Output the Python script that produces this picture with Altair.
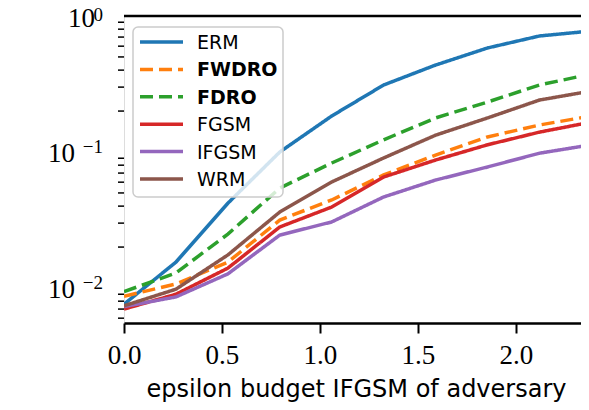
import altair as alt
import pandas as pd

# ---- data ----
eps = [0.0, 0.265, 0.53, 0.795, 1.06, 1.325, 1.59, 1.855, 2.12, 2.385]
names = ["ERM", "FWDRO", "FDRO", "FGSM", "IFGSM", "WRM"]
erm = [0.0076, 0.0155, 0.042, 0.100, 0.184, 0.311, 0.436, 0.582, 0.713, 0.776]
fwdro = [0.0087, 0.0107, 0.0155, 0.0316, 0.0444, 0.0678, 0.095, 0.129, 0.158, 0.184]
fdro = [0.0094, 0.0129, 0.0249, 0.0543, 0.083, 0.123, 0.178, 0.233, 0.311, 0.375]
fgsm = [0.0070, 0.0090, 0.0140, 0.0281, 0.0394, 0.0655, 0.0873, 0.113, 0.140, 0.166]
ifgsm = [0.0073, 0.0086, 0.0127, 0.0245, 0.0306, 0.0467, 0.0622, 0.0776, 0.098, 0.113]
wrm = [0.0074, 0.0098, 0.0175, 0.0362, 0.0602, 0.0904, 0.133, 0.178, 0.241, 0.281]
series = [erm, fwdro, fdro, fgsm, ifgsm, wrm]

colors = ["#1f77b4", "#ff7f0e", "#2ca02c", "#d62728", "#9467bd", "#8c564b"]
dashes = [[1, 0], [13, 6], [13, 6], [1, 0], [1, 0], [1, 0]]
bold_names = ["FWDRO", "FDRO"]

x_ticks = [0.0, 0.5, 1.0, 1.5, 2.0]
y_major = [0.01, 0.1, 1.0]
y_low = [0.01, 0.1]
y_low_exp = ["\u22122", "\u22121"]
y_top = [1.0]
y_top_exp = ["0"]
y_minor = [0.006, 0.007, 0.008, 0.009,
           0.02, 0.03, 0.04, 0.05, 0.06, 0.07, 0.08, 0.09,
           0.2, 0.3, 0.4, 0.5, 0.6, 0.7, 0.8, 0.9]

W, H = 457, 307
X_MAX = 2.332  # visible x range (plot is cut at the right edge)

rows = []
for n, s in zip(names, series):
    for e, v in zip(eps, s):
        rows.append({"eps": e, "err": v, "name": n})
df = pd.DataFrame(rows)

xscale = alt.Scale(domain=[0, X_MAX], nice=False, zero=False)
yscale = alt.Scale(type="log", domain=[0.00553, 1.0], nice=False)
color = alt.Color("name:N", scale=alt.Scale(domain=names, range=colors), legend=None)
dash = alt.StrokeDash("name:N", scale=alt.Scale(domain=names, range=dashes), legend=None)

SANS = "DejaVu Sans"
SERIF = "Liberation Serif"

lines = alt.Chart(df).mark_line(strokeWidth=3.5, clip=True).encode(
    x=alt.X("eps:Q", scale=xscale, axis=alt.Axis(
        values=x_ticks, format=".1f", title="epsilon budget IFGSM of adversary",
        labelFont=SERIF, labelFontSize=27, labelColor="black", labelFlush=False,
        labelBaseline="alphabetic", labelPadding=30, labelOverlap=False,
        tickSize=10, tickWidth=2, tickColor="black",
        domainWidth=2.5, domainColor="black", grid=False,
        titleFont=SANS, titleFontSize=24, titleFontWeight="normal", titleColor="black",
        titleX=232, titleY=73, titleAlign="center", titleBaseline="alphabetic")),
    y=alt.Y("err:Q", scale=yscale, axis=alt.Axis(
        values=y_major, labels=False, title="test error",
        tickSize=10, tickWidth=2, tickColor="black",
        domainWidth=2.5, domainColor="black", grid=False,
        titleFont=SANS, titleFontSize=23, titleFontWeight="normal", titleColor="black",
        titleX=-92, titleY=H / 2, titleAngle=270, titleAlign="center",
        titleBaseline="alphabetic")),
    color=color,
    strokeDash=dash,
)

top_spine = alt.Chart(pd.DataFrame({"a": [0]})).mark_rule(
    strokeWidth=2.5, color="black").encode(
    x=alt.value(0), x2=alt.value(W), y=alt.value(0))

minor = alt.Chart(pd.DataFrame({"v": y_minor})).mark_rule(
    strokeWidth=1.5, color="black").encode(
    y=alt.Y("v:Q", scale=yscale, axis=None), x=alt.value(-6), x2=alt.value(0))

def label_layer(vals, texts, x, size, dy):
    return alt.Chart(pd.DataFrame({"v": vals, "t": texts})).mark_text(
        align="right", baseline="alphabetic", dy=dy, font=SERIF, fontSize=size,
        color="black"
    ).encode(y=alt.Y("v:Q", scale=yscale, axis=None), x=alt.value(x), text="t:N")

base_low = label_layer(y_low, ["10"] * len(y_low), -49, 27, 10)
exp_low = label_layer(y_low, y_low_exp, -21, 19, 1)
base_top = label_layer(y_top, ["10"] * len(y_top), -29, 27, 11)
exp_top = label_layer(y_top, y_top_exp, -21, 19, 5)

main = alt.layer(lines, top_spine, minor, base_low, exp_low, base_top, exp_top)

# ---- legend ----
leg_df = pd.DataFrame({"name": names})
leg_y = alt.Y("name:N", scale=alt.Scale(type="point", domain=names, range=[26, 163], padding=0),
              axis=None)

box = alt.Chart(pd.DataFrame({"a": [0]})).mark_rect(
    fill="white", fillOpacity=0.8, stroke="#cccccc", strokeWidth=1.5, cornerRadius=5
).encode(x=alt.value(9), x2=alt.value(159), y=alt.value(11), y2=alt.value(181))

leg_lines = alt.Chart(leg_df).mark_rule(strokeWidth=3.5).encode(
    y=leg_y, x=alt.value(16), x2=alt.value(59), color=color, strokeDash=dash)

cond = "indexof(" + str(bold_names) + ", datum.name) >= 0"
leg_text_n = alt.Chart(leg_df).transform_filter("!(" + cond + ")").mark_text(
    align="left", baseline="alphabetic", dy=7, font=SANS, fontSize=19, color="black"
).encode(y=leg_y, x=alt.value(73), text="name:N")
leg_text_b = alt.Chart(leg_df).transform_filter(cond).mark_text(
    align="left", baseline="alphabetic", dy=7, font=SANS, fontSize=19, fontWeight="bold",
    color="black"
).encode(y=leg_y, x=alt.value(73), text="name:N")

legend = alt.layer(box, leg_lines, leg_text_n, leg_text_b)

chart = alt.layer(main, legend).resolve_scale(y="independent").properties(
    width=W, height=H,
    autosize=alt.AutoSizeParams(type="none"),
    padding={"left": 116, "top": 8, "right": 0, "bottom": 79},
).configure_view(stroke=None).configure(background="white")

chart.save("out.html", embed_options={"renderer": "svg", "actions": False})
